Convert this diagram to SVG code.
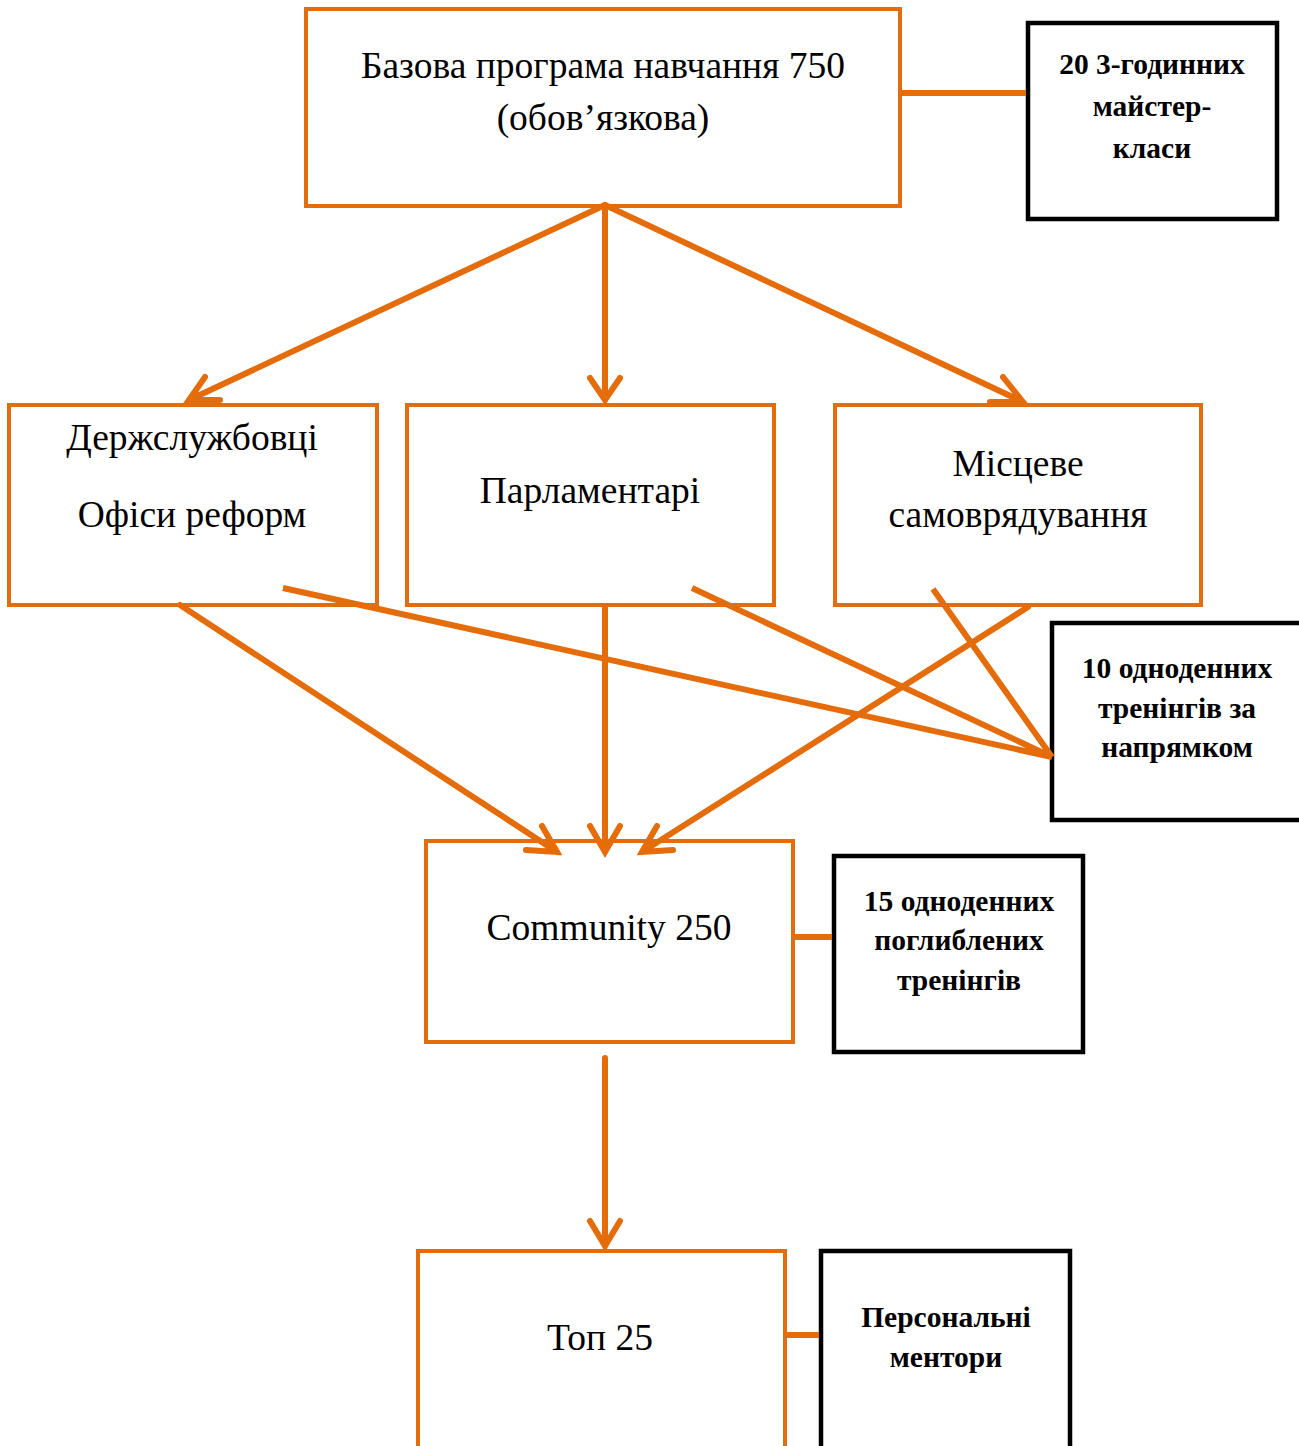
<svg xmlns="http://www.w3.org/2000/svg" width="1299" height="1446" viewBox="0 0 1299 1446">
<style>
.ob{fill:#fff;stroke:#E46C0A;stroke-width:4}
.bb{fill:#fff;stroke:#000;stroke-width:4.5}
.t{font-family:"Liberation Serif","Times New Roman",serif;font-size:37.5px;fill:#000;text-anchor:middle}
.b{font-family:"Liberation Serif","Times New Roman",serif;font-size:29.5px;font-weight:bold;fill:#000;text-anchor:middle}
.c{stroke:#E46C0A;stroke-width:6;fill:none;stroke-linecap:round;stroke-linejoin:miter}
.cs{stroke:#E46C0A;stroke-width:6;fill:none;stroke-linecap:butt}
</style>
<rect width="1299" height="1446" fill="#fff"/>
<g id="node-base">
<rect class="ob" x="306" y="9" width="594" height="197"/>
<text class="t" x="603" y="78">Базова програма навчання 750</text>
<text class="t" x="603" y="130">(обов’язкова)</text>
</g>
<g id="node-master">
<rect class="bb" x="1028" y="23" width="249" height="196"/>
<text class="b" x="1152" y="74">20 3-годинних</text>
<text class="b" x="1152" y="116">майстер-</text>
<text class="b" x="1152" y="158">класи</text>
</g>
<g id="node-civil">
<rect class="ob" x="9" y="405" width="368" height="200"/>
<text class="t" x="192" y="450">Держслужбовці</text>
<text class="t" x="192" y="527">Офіси реформ</text>
</g>
<g id="node-parl">
<rect class="ob" x="407" y="405" width="367" height="200"/>
<text class="t" x="590" y="503">Парламентарі</text>
</g>
<g id="node-local">
<rect class="ob" x="835" y="405" width="366" height="200"/>
<text class="t" x="1018" y="476">Місцеве</text>
<text class="t" x="1018" y="527">самоврядування</text>
</g>
<g id="node-10">
<rect class="bb" x="1052" y="623" width="250" height="197"/>
<text class="b" x="1177" y="678">10 одноденних</text>
<text class="b" x="1177" y="718">тренінгів за</text>
<text class="b" x="1177" y="757">напрямком</text>
</g>
<g id="node-community">
<rect class="ob" x="426" y="841" width="367" height="201"/>
<text class="t" x="609" y="940">Community 250</text>
</g>
<g id="node-15">
<rect class="bb" x="834" y="856" width="249" height="196"/>
<text class="b" x="959" y="911">15 одноденних</text>
<text class="b" x="959" y="950">поглиблених</text>
<text class="b" x="959" y="990">тренінгів</text>
</g>
<g id="node-top">
<rect class="ob" x="418" y="1251" width="367" height="220"/>
<text class="t" x="600" y="1350">Топ 25</text>
</g>
<g id="node-mentors">
<rect class="bb" x="821" y="1251" width="249" height="220"/>
<text class="b" x="946" y="1327">Персональні</text>
<text class="b" x="946" y="1367">ментори</text>
</g>
<g id="connectors">
<line class="cs" x1="902" y1="93" x2="1026" y2="93"/>
<line class="cs" x1="795" y1="937" x2="832" y2="937"/>
<line class="cs" x1="787" y1="1335" x2="819" y2="1335"/>
<path class="c" d="M605 205 L189 400 M205 377 L189 400 L220 400"/>
<path class="c" d="M605 205 L605 400 M590 378 L605 400 L620 378"/>
<path class="c" d="M605 205 L1023 402 M1003 377 L1023 402 L990 402"/>
<path class="c" d="M180 605 L557 852 M542 826 L557 852 L526 850"/>
<path class="c" d="M605 607 L605 852 M590 826 L605 852 L620 826"/>
<path class="c" d="M1028 607 L642 852 M657 826 L642 852 L673 850"/>
<path class="c" d="M605 1058 L605 1246 M590 1221 L605 1246 L620 1221"/>
<path class="cs" d="M283 588 L1052 757 M692 588 L1052 757 M933 589 L1052 757"/>
</g>
</svg>
